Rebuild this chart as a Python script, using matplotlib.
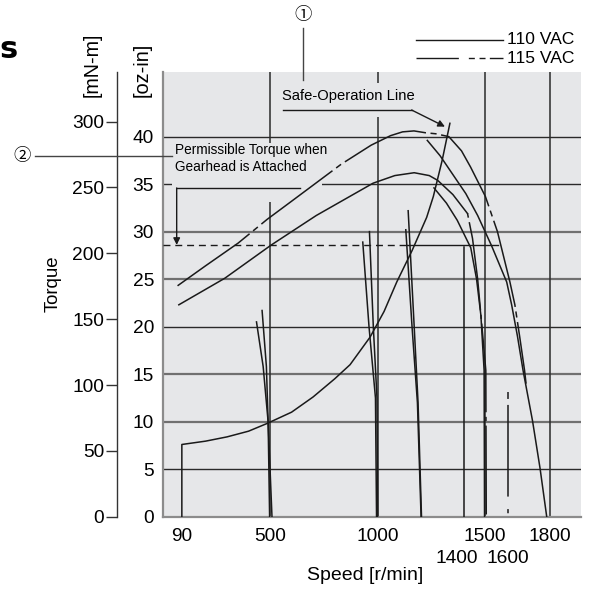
import matplotlib
matplotlib.use('Agg')
import matplotlib.pyplot as plt
from matplotlib.lines import Line2D
from matplotlib.patches import Rectangle
from matplotlib.transforms import ScaledTranslation

plt.rcParams['font.family'] = ['Liberation Sans', 'DejaVu Sans']
plt.rcParams['lines.scale_dashes'] = False

# axis ticks
speed_ticks = [90, 500, 1000, 1500, 1800]
speed_ticks_low = [1400, 1600]
oz_ticks = [0, 5, 10, 15, 20, 25, 30, 35, 40]
mnm_ticks = [0, 50, 100, 150, 200, 250, 300]
grid_speeds = [500, 1000, 1500, 1800]
grid_dark = [5, 20, 35, 40]
grid_gray = [10, 15, 25, 30]

# upper characteristic (115 VAC) and its 110 VAC branch
hi115_speed = [70, 200, 352, 487, 600, 683, 831, 970, 1060, 1116, 1169, 1224, 1270, 1331, 1390,
               1432, 1501, 1557, 1615, 1638, 1660, 1683, 1690]
hi115_torque = [24.3, 26.4, 28.8, 31.3, 33.2, 34.6, 37.1, 39.1, 40.1, 40.5, 40.6, 40.4, 40.3, 40.0, 38.5,
                36.8, 33.7, 30.0, 24.7, 22.3, 19.0, 15.4, 14.0]
hi110_speed = [1231, 1290, 1350, 1410, 1465, 1530, 1600, 1623, 1650, 1676, 1720, 1755, 1786]
hi110_torque = [39.6, 38.0, 36.0, 34.0, 31.7, 28.5, 24.7, 22.3, 19.0, 15.4, 10.1, 5.1, 0]

# lower characteristic and its two branches
lo_speed = [76, 290, 506, 715, 979, 1080, 1170, 1240, 1279, 1350, 1418]
lo_torque = [22.3, 25.1, 28.6, 31.7, 35.1, 35.9, 36.2, 35.9, 35.4, 33.9, 31.9]
lo115_speed = [1418, 1441, 1465, 1485, 1503, 1505]
lo115_torque = [31.9, 29.3, 25.0, 20.0, 15.4, 0]
lo110_speed = [1262, 1320, 1370, 1433, 1460, 1480, 1495, 1497]
lo110_torque = [34.6, 33.0, 31.2, 28.3, 25.0, 21.2, 15.4, 0]

# speed-setting lines
set500_110_speed = [437, 468, 491, 498]
set500_110_torque = [20.5, 15.8, 10.0, 0]
set500_115_speed = [463, 483, 491, 509]
set500_115_torque = [21.7, 15.8, 10.0, 0]
set1000_110_speed = [931, 960, 990, 995]
set1000_110_torque = [28.9, 20, 12.5, 0]
set1000_115_speed = [962, 980, 997, 1000]
set1000_115_torque = [30.0, 20, 12.5, 0]
set1200_110_speed = [1131, 1160, 1185, 1202]
set1200_110_torque = [30.2, 20, 12, 0]
set1200_115_speed = [1142, 1170, 1188, 1204]
set1200_115_torque = [32.2, 20, 12, 0]
set1400_speed = [1400, 1400]
set1400_torque = [28.4, 0]
set1600_speed = [1607, 1607]
set1600_torque = [13.1, 0]

# safe-operation line
safe_speed = [90, 90, 200, 300, 400, 485, 600, 700, 800, 872, 965, 1030, 1089, 1160, 1228,
              1259, 1300, 1336]
safe_torque = [0, 7.6, 7.95, 8.4, 9.0, 9.8, 11.0, 12.6, 14.5, 16.0, 18.9, 21.6, 24.7, 28.0, 31.5,
               33.7, 37.5, 41.4]

# permissible torque with gearhead
perm_torque = 28.6
perm_dash_end = 1135
perm_solid_end = 1561

W, H = 593, 590
fig = plt.figure(figsize=(W / 100, H / 100), dpi=100)


def fx(px):
    return px / W


def fy(py):
    return 1 - py / H


bg = '#e6e7e9'
ink = '#1a1a1a'
dash_115 = (64, 3.3, 4.4, 3.3)

ax = fig.add_axes([fx(162.7), fy(516.7), 418 / W, 444.7 / H])
ax.set_xlim(1, 1944)
ax.set_ylim(0, 46.8)
ax.set_facecolor(bg)
for s in ['top', 'right']:
    ax.spines[s].set_visible(False)
for s in ['left', 'bottom']:
    ax.spines[s].set_color('#8c8c8c')
    ax.spines[s].set_linewidth(1.6)

# grid
for v in grid_dark:
    ax.axhline(v, color='#2a2a2a', lw=1.0, zorder=1)
for v in grid_gray:
    ax.axhline(v, color='#707070', lw=1.6, zorder=1)
for v in grid_speeds:
    ax.axvline(v, color='#2a2a2a', lw=1.1, zorder=1)

# text backgrounds hiding the grid
ax.add_patch(Rectangle((45, 33.1), 697, 6.2, facecolor=bg, edgecolor='none', zorder=1.5))
ax.add_patch(Rectangle((547, 42.1), 617, 3.5, facecolor=bg, edgecolor='none', zorder=1.5))

kw = dict(color=ink, lw=1.1, zorder=3)
ax.plot(hi115_speed, hi115_torque, dashes=dash_115, **kw)
ax.plot(hi110_speed, hi110_torque, **kw)
ax.plot(lo_speed, lo_torque, **kw)
ax.plot(lo115_speed, lo115_torque, dashes=(3, 3.3, 64, 3.3), **kw)
ax.plot(lo110_speed, lo110_torque, **kw)
for sp, tq in [(set500_110_speed, set500_110_torque), (set500_115_speed, set500_115_torque),
               (set1000_110_speed, set1000_110_torque), (set1000_115_speed, set1000_115_torque),
               (set1200_110_speed, set1200_110_torque), (set1200_115_speed, set1200_115_torque),
               (set1400_speed, set1400_torque)]:
    ax.plot(sp, tq, **kw)
ax.plot(set1600_speed, set1600_torque, color=ink, lw=1.1, zorder=3,
        dashes=(5, 4.3, 66, 9, 3, 4))
ax.plot(safe_speed, safe_torque, **kw)

ax.plot([ax.get_xlim()[0], perm_dash_end], [perm_torque, perm_torque],
        color=ink, lw=1.0, dashes=(5, 3.5), zorder=3)
ax.plot([perm_dash_end, perm_solid_end], [perm_torque, perm_torque], color=ink, lw=1.0, zorder=3)

# annotations
ax.text(58, 39.3, 'Permissible Torque when\nGearhead is Attached', fontsize=9.8,
        ha='left', va='top', linespacing=1.25, zorder=4)
ax.plot([66, 639], [34.6, 34.6], color=ink, lw=1.0, zorder=4)
ax.annotate('', xy=(66, perm_torque), xytext=(66, 34.6),
            arrowprops=dict(arrowstyle='-|>', color=ink, lw=1.0, mutation_scale=10,
                            shrinkA=0, shrinkB=0), zorder=4)
ax.text(556, 44.3, 'Safe-Operation Line', fontsize=10.6, ha='left', va='center', zorder=4)
ax.plot([559, 1158], [42.8, 42.8], color=ink, lw=1.0, zorder=4)
ax.annotate('', xy=(1313, 41.05), xytext=(1158, 42.8),
            arrowprops=dict(arrowstyle='-|>', color=ink, lw=1.0, mutation_scale=10,
                            shrinkA=0, shrinkB=0), zorder=4)

# oz-in axis
ax.set_yticks(oz_ticks)
ax.set_yticklabels([str(v) for v in oz_ticks])
ax.tick_params(axis='y', length=0, pad=6.3, labelsize=13.8)
ax.set_xticks(speed_ticks)
ax.set_xticklabels([str(v) for v in speed_ticks])
ax.set_xticks(speed_ticks_low, minor=True)
ax.set_xticklabels([str(v) for v in speed_ticks_low], minor=True)
ax.tick_params(axis='x', which='major', length=0, pad=8, labelsize=13.8)
ax.tick_params(axis='x', which='minor', length=0, pad=24, labelsize=13.8)
# the lower row is set slightly apart in the reference
for lab, dx in zip(ax.xaxis.get_minorticklabels(), [-7, 1.5]):
    lab.set_transform(lab.get_transform() + ScaledTranslation(dx / 100, 0, fig.dpi_scale_trans))

# mN-m axis
ax2 = ax.twinx()
ax2.set_ylim(0, 337.7)
ax2.yaxis.set_ticks_position('left')
for s in ['top', 'right', 'bottom']:
    ax2.spines[s].set_visible(False)
ax2.spines['left'].set_visible(True)
ax2.spines['left'].set_position(('axes', (117.3 - 162.7) / 418))
ax2.spines['left'].set_color('#333333')
ax2.spines['left'].set_linewidth(1.0)
ax2.set_yticks(mnm_ticks)
ax2.set_yticklabels([str(v) for v in mnm_ticks])
ax2.tick_params(axis='y', direction='out', length=8, width=1, pad=1.5, labelsize=13.8,
                color='#333333')

# labels
fig.text(fx(53), fy(284), 'Torque', rotation=90, ha='center', va='center', fontsize=13.4)
fig.text(fx(92), fy(65), '[mN-m]', rotation=90, ha='center', va='center', fontsize=14.2)
fig.text(fx(142), fy(70), '[oz-in]', rotation=90, ha='center', va='center', fontsize=14.4)
fig.text(fx(365), fy(575), 'Speed [r/min]', ha='center', va='center', fontsize=14)
fig.text(fx(-1), fy(58), 's', ha='left', va='baseline', fontsize=22, fontweight='bold',
         family='DejaVu Sans')

# callouts
circ = ['Noto Sans CJK JP', 'DejaVu Sans']
fig.text(fx(22), fy(155.7), '②', ha='center', va='center', fontsize=12.5, family=circ)
fig.add_artist(Line2D([fx(35), fx(171.7)], [fy(155.7), fy(155.7)], color='#444444', lw=1.0))
fig.text(fx(303.3), fy(15), '①', ha='center', va='center', fontsize=12.5, family=circ)
fig.add_artist(Line2D([fx(303.3), fx(303.3)], [fy(28), fy(80)], color='#444444', lw=1.0))

# legend
fig.add_artist(Line2D([fx(416), fx(503.3)], [fy(40), fy(40)], color=ink, lw=1.0))
fig.add_artist(Line2D([fx(416), fx(503.3)], [fy(58.3), fy(58.3)], color=ink, lw=1.0,
                      dashes=(30.5, 7.2, 4.3, 3.4, 4.3, 3.1, 10.1, 20)))
fig.text(fx(506.7), fy(39.5), '110 VAC', ha='left', va='center', fontsize=12.6)
fig.text(fx(506.7), fy(58.8), '115 VAC', ha='left', va='center', fontsize=12.6)

fig.savefig('out.png', dpi=100)
